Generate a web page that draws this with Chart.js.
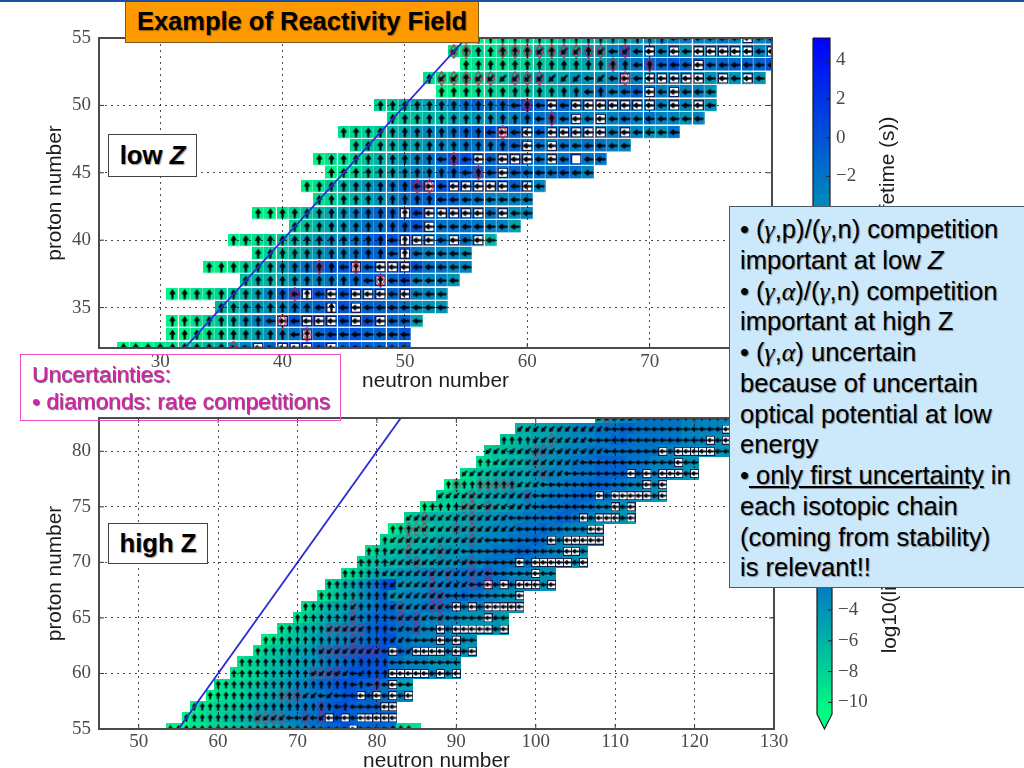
<!DOCTYPE html>
<html>
<head>
<meta charset="utf-8">
<title>Example of Reactivity Field</title>
<script src="https://cdn.jsdelivr.net/npm/chart.js@4/dist/chart.umd.min.js"></script>
<style>
  html, body { margin: 0; background: #fff; }
  body { position: relative; width: 1024px; height: 768px; overflow: hidden; font-family: "Liberation Sans", Arial, sans-serif; color: #000; }
  canvas { position: absolute; filter: blur(0.6px); }
  #topLine { position: absolute; left: 0; top: 0; width: 1024px; height: 1.5px; background: #1a4fa8; z-index: 9; }
  #lowWrap { position: absolute; left: 0; top: 0; width: 800px; height: 388px; overflow: hidden; }
  #highWrap { position: absolute; left: 0; top: 388px; width: 800px; height: 380px; overflow: hidden; background: #fff; }
  #barTop { left: 800px; top: 0; }
  #barBottom { left: 800px; top: 388px; }
  .note { position: absolute; box-sizing: border-box; white-space: nowrap; text-shadow: 1px 1px 1px rgba(0,0,0,.4); z-index: 5; }
  #title { left: 125px; top: -2px; width: 354px; height: 45px; background: #ff9900; border: 1.5px solid #7a5a18; font: bold 25.5px/44px "Liberation Sans"; text-align: center; }
  .tag { background: #fff; border: 1.5px solid #444; font: bold 25.7px "Liberation Sans"; text-align: center; }
  #lowTag { left: 108px; top: 134px; width: 89px; height: 43px; line-height: 41px; }
  #highTag { left: 108px; top: 523px; width: 100px; height: 41px; line-height: 39px; }
  #uncert { left: 20px; top: 354px; width: 321px; height: 67px; border: 1px solid #e94fc8; color: #d820a8; font: 22.7px/27px "Liberation Sans"; padding: 6px 0 0 11px; text-shadow: 1px 1px 1px rgba(40,0,40,.7); }
  #info { left: 729px; top: 206px; width: 296px; height: 382px; background: #cce8fb; border: 1.5px solid #4a5a68; font: 25.6px/30.75px "Liberation Sans"; padding: 7px 0 0 10px; }
  #info i.g { font-family: "Liberation Serif"; line-height: 0; }
  #info u { text-underline-offset: 2px; }
</style>
</head>
<body>
<div id="topLine"></div>
<div id="lowWrap"><canvas id="lowChart" width="800" height="400"></canvas></div>
<div id="highWrap"><canvas id="highChart" width="800" height="400"></canvas></div>
<canvas id="barTop" width="130" height="400"></canvas>
<canvas id="barBottom" width="130" height="400"></canvas>

<div class="note" id="title">Example of Reactivity Field</div>
<div class="note tag" id="lowTag">low <i>Z</i></div>
<div class="note tag" id="highTag">high Z</div>
<div class="note" id="uncert">Uncertainties:<br>• diamonds: rate competitions</div>
<div class="note" id="info">• (<i class="g">γ</i>,p)/(<i class="g">γ</i>,n) competition<br>important at low <i>Z</i><br>• (<i class="g">γ</i>,<i class="g">α</i>)/(<i class="g">γ</i>,n) competition<br>important at high Z<br>• (<i class="g">γ</i>,<i class="g">α</i>) uncertain<br>because of uncertain<br>optical potential at low<br>energy<br>•<u> only first uncertainty</u> in<br>each isotopic chain<br>(coming from stability)<br>is relevant!!</div>

<script>
// axis ticks
const lowXTicks = [30, 40, 50, 60, 70, 80];
const lowYTicks = [35, 40, 45, 50, 55];
const highXTicks = [50, 60, 70, 80, 90, 100, 110, 120, 130];
const highYTicks = [55, 60, 65, 70, 75, 80];
const barTopTicks = [4, 2, 0, -2, -4, -6, -8, -10];
const barBottomTicks = [8, 6, 4, 2, 0, -2, -4, -6, -8, -10];

// low Z panel: one entry per proton number
const lowProton = [55, 54, 53, 52, 51, 50, 49, 48, 47, 46, 45, 44, 43, 42, 41, 40, 39, 38, 37, 36, 35, 34, 33, 32];
const lowFirstN = [55, 54, 55, 52, 53, 48, 49, 45, 46, 43, 44, 42, 43, 38, 41, 36, 38, 34, 37, 31, 35, 31, 31, 27];
// log10(lifetime) of each nucleus
const lowLife = [
  [-10,-10,-10,-9,-9,-8,-8,-8,-7,-7,-6,-6,-5,-5,-4,-4,-3,-3,-3,-3,-3,-2,-3,-3,-3,-2],
  [-9,-9,-8,-9,-8,-7,-8,-6,-7,-5,-6,-4,-5,-3,-1,-3,-2,-3,-2,-4,-3,-4,-3,-4,-3,-3,-3],
  [-10,-9,-9,-9,-8,-8,-7,-7,-6,-6,-5,-5,-4,-3,-2,-1,-1,0,-1,0,-2,-1,-1,-1,-1,0],
  [-9,-9,-9,-8,-8,-7,-7,-6,-6,-5,-5,-5,-4,-4,-4,-3,-3,-3,-4,-3,-4,-3,-4,-4,-4,-4,-4,-4],
  [-10,-10,-9,-9,-8,-8,-7,-7,-6,-6,-5,-4,-3,-2,-3,-2,-1,-2,-3,-3,-3,-3,-4],
  [-8,-7,-6,-5,-5,-4,-3,-2,-1,-2,-1,-1,0,-1,-1,-1,-2,-2,-2,-2,-2,-2,-2,-3,-3,-3,-4,-4],
  [-8,-7,-7,-6,-6,-5,-5,-4,-4,-3,-3,-2,-2,-2,-2,-3,-3,-3,-3,-2,-3,-2,-3,-3,-4,-3],
  [-9,-8,-8,-7,-6,-5,-4,-3,-3,-2,-1,-1,0,-1,-1,-2,-1,-2,-2,-2,-2,-3,-3,-3,-3,-4,-4,-2],
  [-8,-7,-7,-6,-5,-5,-4,-3,-3,-2,-2,-2,-1,-1,-2,-2,-3,-2,-3,-2,-2,-3,-3],
  [-10,-9,-9,-8,-7,-6,-5,-4,-3,-2,-1,0,0,0,-1,0,0,-1,-2,-2,-2,0,-2,-2],
  [-10,-9,-8,-7,-6,-5,-4,-3,-3,-2,-1,-1,-1,-1,-2,-1,-2,-2,-2,-1,-2,-3],
  [-10,-9,-7,-6,-5,-4,-3,-2,-1,0,1,0,0,0,-1,-1,-1,-1,-2,-3],
  [-9,-8,-7,-6,-5,-4,-3,-2,-1,-1,-1,-1,-2,-2,-3,-3,-3,-3],
  [-10,-10,-9,-8,-7,-6,-5,-4,-3,-2,-1,-1,0,0,-1,-2,-1,-1,-2,-2,-3,-4,-3],
  [-8,-7,-6,-5,-4,-3,-2,-2,-1,-1,0,-1,-2,-2,-2,-2,-3,-3,-5],
  [-10,-9,-9,-8,-7,-6,-5,-4,-3,-3,-2,-1,0,0,0,-2,-2,-2,-3,-2,-3,-6],
  [-9,-8,-7,-6,-5,-4,-3,-3,-2,-1,-1,-1,0,-2,-3,-3,-3,-4],
  [-10,-10,-9,-8,-7,-6,-4,-3,-2,-1,0,0,0,-1,0,0,-1,0,-2,-2,-3,-3],
  [-7,-6,-6,-5,-4,-3,-3,-2,-2,-1,-1,-1,-1,0,-3,-3,-3,-4],
  [-10,-10,-9,-9,-8,-7,-6,-5,-3,-1,0,1,0,0,0,0,-1,-1,-1,0,-3,-3,-4],
  [-6,-6,-5,-4,-4,-3,-2,-2,-1,0,0,-1,-1,-1,-1,-2,-4,-4,-4],
  [-10,-10,-9,-8,-7,-6,-4,-3,-2,-1,0,1,0,0,0,0,0,0,-1,-1,-5],
  [-10,-10,-9,-9,-8,-7,-6,-5,-4,-3,-2,-1,-1,0,-1,0,-1,-1,-1,0],
  [-10,-10,-10,-9,-9,-8,-7,-6,-5,-4,-3,-2,-1,0,0,1,0,0,-1,0,-1,-1,-1,0]
];
// flow arrow per nucleus: v up, l left, d diagonal; capital = white box, o = empty box
const lowFlow = [
  "vvvvvvvvvvvvvvvvvllllllLll",
  "dvvvvvvdvddvdldlLlLlLLLLLlL",
  "vvvvvvvvvvvvvvlvlllLllllll",
  "vddvdddddddddldlLlLLLLLlLlLl",
  "vvvvvvvvvvvvlvlllLlLlll",
  "vvvvvvvvvvvlvlLlLLLLLLLlLlLl",
  "vvvvvvvvvvvvlvlLlLllllllll",
  "vvvvvvvvvvvvlLlLlLLLLLlLllll",
  "vvvvvvvvvvvvvlLlLllllll",
  "vvvvvvvvvvlvlLlLLLlLloll",
  "vvvvvvvvvvvlvlLlllllll",
  "vvvvvvvvvlLlLLLLLlLl",
  "vvvvvvvvvvllllllll",
  "vvvvvvvvvvvvVlLLLLLlLll",
  "vvvvvvvvvvlLlllllll",
  "vvvvvvvvvvvvvlVLLlLlLl",
  "vvvvvvvvvvvlVlllll",
  "vvvvvvvvvvvlVlLLLlllll",
  "vvvvvvvvvvlVllllll",
  "vvvvvvvvvvlVlLlLLLlLlll",
  "vvvvvvvvlVlLlllllll",
  "vvvvvvvvlLlLLLlLlLlll",
  "vvvvvvvvvvlVllllllll",
  "vvvvvvvvvllLlLLLlLllllll"
];
const lowDiamondZ = [54,54,54,54,54,54,54,54,54,54,54,54,53,53,52,52,52,52,52,52,52,52,52,50,49,48,46,45,44,44,38,38,37,36,34,33,32];
const lowDiamondN = [54,55,58,59,60,61,62,63,64,65,66,68,67,70,53,54,55,56,57,59,60,61,68,60,62,58,54,56,51,52,43,46,48,41,40,42,36];

// high Z panel
const highProton = [83, 82, 81, 80, 79, 78, 77, 76, 75, 74, 73, 72, 71, 70, 69, 68, 67, 66, 65, 64, 63, 62, 61, 60, 59, 58, 57, 56, 55];
const highFirstN = [108, 98, 96, 94, 93, 91, 89, 88, 86, 84, 82, 81, 79, 78, 76, 74, 73, 71, 70, 68, 66, 65, 63, 62, 60, 59, 57, 56, 54];
const highLife = [
  [-5,-4,-4,-3,-3,-2,-2,-2,-2,-2,-2,-3,-3,-3,-3,-3,-3],
  [-6,-6,-5,-5,-5,-4,-4,-3,-3,-3,-2,-2,-2,-1,-1,-2,-2,-2,-2,-2,-2,-3,-3,-3,-3,-3,-4],
  [-7,-7,-6,-6,-5,-5,-5,-4,-4,-3,-3,-3,-2,-2,-1,-1,-2,-2,-2,-2,-2,-2,-2,-3,-3,-3,-3,-4,-4],
  [-8,-7,-7,-6,-6,-5,-5,-4,-4,-4,-3,-3,-3,-2,-2,-2,-2,-2,-2,-2,-2,-2,-3,-3,-3,-3,-3,-4,-4,-4,-4],
  [-9,-8,-7,-7,-6,-6,-5,-5,-4,-4,-3,-3,-2,-2,-2,-1,-1,-1,-1,-2,-2,-2,-3,-3,-3,-4,-4,-4],
  [-9,-8,-7,-7,-6,-6,-5,-5,-5,-4,-4,-3,-3,-3,-2,-2,-2,-1,-1,-1,-1,-2,-2,-2,-3,-3,-3,-4,-4,-5],
  [-10,-9,-8,-8,-7,-7,-6,-6,-5,-5,-5,-4,-4,-3,-3,-2,-2,-2,-1,-1,-1,-2,-2,-3,-3,-4,-4,-5],
  [-8,-8,-7,-7,-6,-6,-5,-5,-5,-4,-4,-3,-3,-3,-2,-2,-2,-1,-1,-1,-2,-2,-3,-3,-3,-4,-4,-4,-5],
  [-10,-9,-8,-8,-7,-7,-6,-6,-5,-5,-5,-4,-4,-3,-3,-2,-2,-2,-1,-1,-2,-2,-3,-3,-4,-4,-4],
  [-8,-7,-7,-6,-6,-6,-5,-5,-5,-4,-4,-4,-3,-3,-3,-2,-2,-2,-2,-1,-1,-2,-2,-3,-3,-3,-4,-4,-5],
  [-10,-9,-8,-8,-7,-7,-6,-6,-5,-5,-5,-4,-4,-3,-3,-3,-2,-2,-2,-1,-2,-2,-3,-3,-3,-4,-4],
  [-8,-8,-7,-7,-6,-6,-6,-5,-5,-5,-4,-4,-4,-3,-3,-3,-2,-2,-2,-1,-2,-2,-3,-3,-3,-4,-4,-4],
  [-9,-8,-7,-7,-6,-6,-6,-5,-5,-5,-4,-4,-4,-3,-3,-3,-2,-2,-2,-1,-1,-2,-2,-3,-3,-4,-4,-4],
  [-8,-7,-7,-6,-6,-6,-5,-5,-5,-5,-4,-4,-4,-3,-3,-3,-2,-2,-2,-2,-1,-2,-2,-3,-3,-3,-4,-4,-5],
  [-9,-8,-7,-6,-5,-5,-5,-4,-4,-4,-3,-3,-3,-3,-2,-2,-2,-2,-1,-2,-2,-3,-3,-3,-4,-4,-4],
  [-8,-7,-6,-5,-4,-3,-2,0,1,-4,-4,-4,-3,-3,-3,-2,-2,-2,-2,-1,-1,-2,-2,-3,-3,-3,-3,-4,-4],
  [-9,-8,-7,-6,-5,-4,-3,-2,-1,-4,-4,-3,-3,-3,-2,-2,-2,-2,-1,-2,-2,-3,-3,-4,-4,-4],
  [-9,-8,-7,-6,-5,-5,-4,-3,-3,-2,-1,-1,-3,-3,-3,-2,-2,-2,-2,-2,-3,-3,-3,-3,-4,-4,-4,-4],
  [-9,-8,-7,-6,-5,-5,-4,-3,-3,-2,-1,-1,-1,-2,-2,-2,-3,-3,-3,-3,-3,-4,-4,-4,-4,-4,-5],
  [-9,-8,-7,-6,-6,-5,-4,-4,-3,-3,-2,-1,-1,0,-1,-2,-2,-2,-3,-3,-3,-3,-3,-4,-4,-4,-4,-4,-5],
  [-10,-9,-8,-7,-7,-6,-5,-4,-4,-3,-3,-2,-2,-1,-1,0,0,-2,-2,-3,-3,-3,-3,-3,-4,-4,-4],
  [-9,-8,-7,-7,-6,-5,-5,-4,-3,-3,-2,-2,-1,-1,0,0,0,-1,-1,-2,-2,-2,-3,-3,-3,-4,-4,-4],
  [-9,-8,-8,-7,-7,-6,-5,-5,-4,-4,-3,-2,-2,-1,-1,0,0,0,0,-2,-2,-3,-3,-3,-4,-4,-4,-4],
  [-9,-9,-8,-8,-7,-6,-6,-5,-4,-4,-3,-3,-2,-1,-1,0,0,0,0,0,-2,-2,-3,-3,-3,-3,-4,-4,-4],
  [-9,-9,-8,-8,-7,-7,-6,-5,-5,-4,-3,-3,-2,-1,-1,0,0,0,-1,-1,-1,-2,-5,-5,-5],
  [-10,-9,-9,-8,-8,-7,-6,-6,-5,-5,-4,-3,-3,-2,-2,-1,-1,0,0,-1,-1,-1,-2,-2,-3,-3],
  [-10,-9,-9,-8,-8,-7,-7,-6,-5,-5,-4,-4,-3,-3,-2,-2,-1,-1,0,0,-1,-1,-1,-1,-2,-2],
  [-10,-9,-9,-8,-8,-7,-7,-6,-6,-5,-5,-4,-4,-3,-3,-2,-2,-1,-1,0,0,-1,-1,-1,-1,-1,-1],
  [-10,-10,-10,-9,-9,-8,-8,-8,-7,-7,-6,-6,-5,-5,-4,-4,-3,-3,-2,-2,-1,-1,0,0,-1,-1,-1,-1,-2,-8,-9,-9]
];
const highFlow = [
  "dddddllllllllllll",
  "dddddddddddlllllllllllllllL",
  "vvvvdddddddlllllllllllllllLlL",
  "dddddddddddddddlllllllLlLLLLLll",
  "vvdddddddddddllllllllllllLll",
  "dddddddddddddllllllllLlLlLLLlL",
  "vvvvvvvvvdddlllllllllllllLlL",
  "ddddddddddddllllllllLlLLLLLlL",
  "vvvvvdddddddddllllllllllLlL",
  "dddddddddddddlllllllllLlLLLlL",
  "vvvdddddddddddddlllllllllLL",
  "vddddddddddddllllllllLlLLLLL",
  "vvvdddddddddlllllllllllllLLl",
  "vvvvddddddddddllllllLlLLLLLlL",
  "vvvvvdddddddddddddllllllLll",
  "vvvvvvvvddddddddddllLlLlLLLlL",
  "vvvvvvvvvdddddddlllllllllL",
  "vvvvvvdvvvvdddddddlLlLlLLLLL",
  "vvvvvvvdvvvvlddddldlllllLll",
  "vvvvvvdddddvvvldldllLlLLLLLlL",
  "vvvvvvvvvvvdvvvvddllllLlLll",
  "vvvvvvvvddddddddlLldLLLLlLlL",
  "vvvvvvvvvvvvvvvvvvvlllllllll",
  "vvvvvvvvvvdddddldvvvLLLLLlLlL",
  "vvvvvvvvvvvvvvvvvlvlvlLll",
  "vvvvvvvvvvvvddldlllLlLlLlL",
  "vvvvvvvvvvvvvvvvvvlvllllLL",
  "vvvvvvvvvddddlldldLlLlLLLLL",
  "vvvvvvvvvvvvvvvvvvvllllLllllvvv"
];
const highDiamondZ = [56,56,56,56,56,56,57,58,58,58,59,60,60,60,60,62,62,62,62,62,62,62,62,63,64,64,64,64,64,64,65,65,65,65,66,66,66,66,67,67,68,68,68,69,69,69,69,70,70,71,71,72,72,73,73,73,73,73,74,74,75,75,75,76,76,77,77,77,77,77,77,78,79,80,80,81,83];
const highDiamondN = [65,66,67,68,71,73,73,68,69,70,80,72,73,74,75,73,74,75,76,77,78,79,80,77,74,75,76,77,78,85,77,83,85,88,77,83,87,88,87,88,87,92,94,87,89,92,94,85,92,84,88,84,92,84,85,86,90,92,86,92,91,92,94,92,99,90,93,94,95,96,97,101,100,100,101,102,109];

// colour bars: outline of each bar in (position across, log10 lifetime)
const barAcross = [0, 1, 1, 0.5, 0, 0];
const barTopEdge = [5.16, 5.16, -10.3, -10.88, -10.3, 5.16];
const barBottomEdge = [8.47, 8.47, -10.77, -11.73, -10.77, 8.47];

const lifeMin = -10.77, lifeMax = 5.16;
const NUCLEON_TITLE = { neutron: "neutron number", proton: "proton number" };
const BAR_TITLE = "log10(lifetime (s))";

Chart.defaults.animation = false;
Chart.defaults.events = [];
Chart.defaults.font.family = "Liberation Sans";

const tickFont = { family: "Liberation Serif", size: 19 };
const titleFont = { family: "Liberation Sans", size: 20.8 };
const TICK_COLOR = "#4a4a4a";

// winter_r style map, same as the colour bars
function lifeColor(v) {
  const t = Math.min(1, Math.max(0, (v - lifeMin) / (lifeMax - lifeMin)));
  return `rgb(0,${Math.round(255 * (1 - t))},${Math.round(128 + 127 * t)})`;
}

function sprite(w, h, draw) {
  const c = document.createElement("canvas");
  c.width = w;
  c.height = h;
  draw(c.getContext("2d"), w, h);
  return c;
}

function arrowSprite(size, half) {
  return sprite(size, size, (g, w, h) => {
    const s = (size - 1) / 2;
    g.translate(w / 2, h / 2);
    g.fillStyle = "#03040a";
    g.beginPath();
    g.moveTo(0, -s);
    g.lineTo(half, -s * 0.05);
    g.lineTo(half * 0.4, s * 0.05);
    g.lineTo(half * 0.28, s);
    g.lineTo(-half * 0.28, s);
    g.lineTo(-half * 0.4, s * 0.05);
    g.lineTo(-half, -s * 0.05);
    g.closePath();
    g.fill();
  });
}

function boxSprite(w, h) {
  return sprite(w, h, (g) => {
    g.fillStyle = "#fff";
    g.fillRect(0, 0, w, h);
    g.strokeStyle = "#0e1f4e";
    g.lineWidth = 2;
    g.strokeRect(0, 0, w, h);
  });
}

function diamondSprite(w, h, color) {
  return sprite(w, h, (g) => {
    g.strokeStyle = color;
    g.lineWidth = 1.2;
    g.beginPath();
    g.moveTo(w / 2, 0.5);
    g.lineTo(w - 0.5, h / 2);
    g.lineTo(w / 2, h - 0.5);
    g.lineTo(0.5, h / 2);
    g.closePath();
    g.stroke();
  });
}

function cellSprites(w, h, lineAlpha, colAlpha) {
  const cache = {};
  return (v) => {
    if (!cache[v]) {
      cache[v] = sprite(w, h, (g) => {
        g.fillStyle = lifeColor(v);
        g.fillRect(0, 0, w, h);
        if (lineAlpha > 0) {
          g.fillStyle = `rgba(255,255,255,${lineAlpha})`;
          g.fillRect(0, h - 1, w, 1);
          g.fillStyle = `rgba(255,255,255,${colAlpha})`;
          g.fillRect(w - 1, 0, 1, h);
        }
      });
    }
    return cache[v];
  };
}

function marks(style, rotation, data) {
  return { type: "scatter", data, pointStyle: style, rotation, pointRadius: 9, borderWidth: 0, clip: 0 };
}

// frame and the little inward ticks of the matplotlib axes
const axesFrame = {
  id: "axesFrame",
  afterDraw(chart) {
    const { ctx, chartArea: a, scales } = chart;
    ctx.save();
    ctx.strokeStyle = "#3a3a3a";
    ctx.lineWidth = 1;
    scales.x.ticks.forEach((t) => {
      const px = scales.x.getPixelForValue(t.value);
      ctx.beginPath();
      ctx.moveTo(px, a.top); ctx.lineTo(px, a.top + 5);
      ctx.moveTo(px, a.bottom); ctx.lineTo(px, a.bottom - 5);
      ctx.stroke();
    });
    scales.y.ticks.forEach((t) => {
      const py = scales.y.getPixelForValue(t.value);
      ctx.beginPath();
      ctx.moveTo(a.left, py); ctx.lineTo(a.left + 5, py);
      ctx.moveTo(a.right, py); ctx.lineTo(a.right - 5, py);
      ctx.stroke();
    });
    ctx.strokeStyle = "#4a4a4a";
    ctx.lineWidth = 2;
    ctx.strokeRect(a.left, a.top, a.right - a.left, a.bottom - a.top);
    ctx.restore();
  },
};

// inner ticks of a colour bar, and its label which reads upwards
const barDecor = {
  id: "barDecor",
  afterDraw(chart, args, opts) {
    const { ctx, chartArea: a, scales } = chart;
    ctx.save();
    ctx.strokeStyle = "#222";
    ctx.lineWidth = 1;
    scales.y.ticks.forEach((t) => {
      const py = scales.y.getPixelForValue(t.value);
      ctx.beginPath();
      ctx.moveTo(a.right, py); ctx.lineTo(a.right - 4, py);
      ctx.stroke();
    });
    ctx.translate(opts.labelX, opts.labelY);
    ctx.rotate(-Math.PI / 2);
    ctx.font = `${titleFont.size}px ${titleFont.family}`;
    ctx.fillStyle = "#1c1c1c";
    ctx.textAlign = "center";
    ctx.textBaseline = "middle";
    ctx.fillText(BAR_TITLE, 0, 0);
    ctx.restore();
  },
};

function fieldChart(id, p) {
  const cells = [], up = [], left = [], diag = [], boxes = [];
  p.protons.forEach((z, r) => {
    p.life[r].forEach((v, i) => {
      const pos = { x: p.firstN[r] + i, y: z, v };
      cells.push(pos);
      const f = p.flow[r][i] || "";
      if (f === "V" || f === "L" || f === "o") boxes.push(pos);
      if (f === "v" || f === "V") up.push(pos);
      if (f === "l" || f === "L") left.push(pos);
      if (f === "d") diag.push(pos);
    });
  });
  const diamonds = p.diamondZ.map((z, i) => ({ x: p.diamondN[i], y: z }));
  const cell = cellSprites(p.cellW, p.cellH, p.lineAlpha, p.colAlpha);
  const arrow = arrowSprite(p.arrowSize, p.arrowHalf);

  return new Chart(document.getElementById(id), {
    type: "scatter",
    data: {
      // first dataset ends up on top
      datasets: [
        { type: "scatter", showLine: true, data: p.stability, borderColor: "#2a2ad6", borderWidth: 1.8, pointRadius: 0, clip: 0 },
        marks(p.diamond, 0, diamonds),
        marks(arrow, 0, up),
        marks(arrow, -90, left),
        marks(arrow, -135, diag),
        marks(p.box, 0, boxes),
        { type: "scatter", data: cells, pointRadius: 9, borderWidth: 0, clip: 0, pointStyle: (c) => (c.raw ? cell(c.raw.v) : "circle") },
      ],
    },
    options: {
      responsive: false,
      layout: { padding: p.padding },
      plugins: { legend: { display: false }, tooltip: { enabled: false } },
      scales: {
        x: {
          type: "linear", min: p.xMin, max: p.xMax,
          afterBuildTicks: (s) => { s.ticks = p.xTicks.map((value) => ({ value })); },
          afterFit: (s) => { s.height = p.xAxisHeight; },
          ticks: { font: tickFont, color: TICK_COLOR, padding: p.xTickPad, autoSkip: false, maxRotation: 0 },
          grid: { color: "rgba(0,0,0,0.7)", drawTicks: false, z: 1 },
          border: { display: false, dash: [2, 4] },
          title: { display: true, text: NUCLEON_TITLE.neutron, font: titleFont, color: "#1c1c1c", padding: 0 },
        },
        y: {
          type: "linear", min: p.yMin, max: p.yMax,
          afterBuildTicks: (s) => { s.ticks = p.yTicks.map((value) => ({ value })); },
          afterFit: (s) => { s.width = 56.5; },
          ticks: { font: tickFont, color: TICK_COLOR, padding: 8, autoSkip: false },
          grid: { color: "rgba(0,0,0,0.7)", drawTicks: false, z: 1 },
          border: { display: false, dash: [2, 4] },
          title: { display: true, text: NUCLEON_TITLE.proton, font: titleFont, color: "#1c1c1c", padding: 0 },
        },
      },
    },
    plugins: [axesFrame],
  });
}

fieldChart("lowChart", {
  protons: lowProton, firstN: lowFirstN, life: lowLife, flow: lowFlow,
  diamondZ: lowDiamondZ, diamondN: lowDiamondN,
  stability: [{ x: 32, y: 32 }, { x: 55, y: 55 }],
  xMin: 25, xMax: 80, yMin: 32, yMax: 55, xTicks: lowXTicks, yTicks: lowYTicks,
  padding: { left: 42.5, right: 28, top: 38, bottom: 6 }, xAxisHeight: 46, xTickPad: 3,
  cellW: 12, cellH: 13, lineAlpha: 0.85, colAlpha: 0.3,
  arrowSize: 11, arrowHalf: 3.3,
  box: boxSprite(10, 10), diamond: diamondSprite(9, 15, "rgba(205,25,70,0.9)"),
});

fieldChart("highChart", {
  protons: highProton, firstN: highFirstN, life: highLife, flow: highFlow,
  diamondZ: highDiamondZ, diamondN: highDiamondN,
  stability: [{ x: 55, y: 55 }, { x: 83, y: 83 }],
  xMin: 45, xMax: 130, yMin: 55, yMax: 83, xTicks: highXTicks, yTicks: highYTicks,
  padding: { left: 42.5, right: 26, top: 30, bottom: 14.5 }, xAxisHeight: 44.5, xTickPad: 2,
  cellW: 9, cellH: 12, lineAlpha: 0, colAlpha: 0,
  arrowSize: 9, arrowHalf: 2.7,
  box: boxSprite(9, 9), diamond: diamondSprite(9, 14, "rgba(205,25,90,0.55)"),
});

function barChart(id, p) {
  return new Chart(document.getElementById(id), {
    type: "scatter",
    data: {
      datasets: [{
        type: "scatter", showLine: true, fill: "shape", clip: false, pointRadius: 0,
        data: barAcross.map((x, i) => ({ x, y: p.edge[i] })),
        borderColor: "#1a1a1a", borderWidth: 1.2,
        backgroundColor: (c) => {
          const chart = c.chart;
          if (!chart.chartArea) return "#0088aa";
          const y = chart.scales.y;
          const g = chart.ctx.createLinearGradient(0, y.getPixelForValue(lifeMin), 0, y.getPixelForValue(lifeMax));
          g.addColorStop(0, lifeColor(lifeMin));
          g.addColorStop(1, lifeColor(lifeMax));
          return g;
        },
      }],
    },
    options: {
      responsive: false,
      layout: { padding: p.padding },
      plugins: {
        legend: { display: false },
        tooltip: { enabled: false },
        barDecor: { labelX: p.labelX, labelY: p.labelY },
      },
      scales: {
        x: { type: "linear", min: 0, max: 1, display: false },
        y: {
          type: "linear", position: "right", min: p.min, max: p.max,
          afterBuildTicks: (s) => { s.ticks = p.ticks.map((value) => ({ value })); },
          afterFit: (s) => { s.width = p.axisWidth; },
          ticks: {
            font: tickFont, color: TICK_COLOR, padding: 6, autoSkip: false,
            callback: (v) => (v < 0 ? "\u2212" + Math.abs(v) : String(v)),
          },
          grid: { display: false, drawTicks: false },
          border: { display: false },
        },
      },
    },
    plugins: [barDecor],
  });
}

barChart("barTop", {
  edge: barTopEdge, min: -10.88, max: 5.16, ticks: barTopTicks, axisWidth: 69.4,
  labelX: 88, labelY: 197,
  padding: { left: 13, right: 30.6, top: 38, bottom: 52 },
});
barChart("barBottom", {
  edge: barBottomEdge, min: -11.73, max: 8.47, ticks: barBottomTicks, axisWidth: 69.4,
  labelX: 90, labelY: 185,
  padding: { left: 17, right: 28.6, top: 30, bottom: 59 },
});
</script>
</body>
</html>
